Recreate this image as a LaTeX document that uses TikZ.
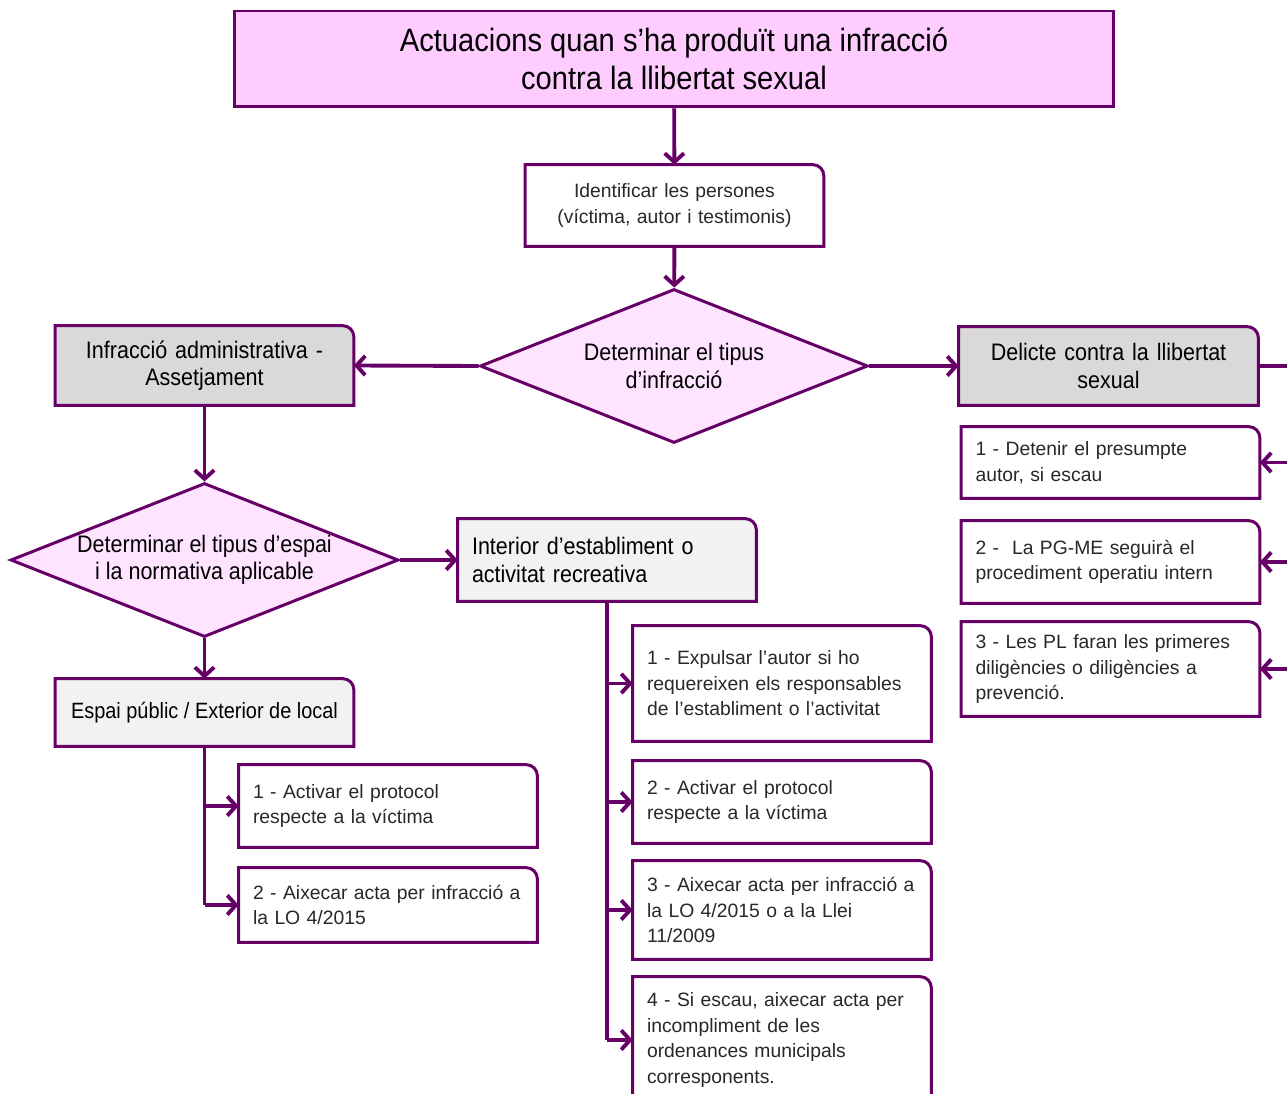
\documentclass[tikz,border=0pt]{standalone}
\usepackage{fontspec}
\setmainfont{Liberation Sans}
\newfontfamily\capfont[FakeStretch=0.9]{Liberation Sans}
\usetikzlibrary{shapes.geometric,arrows.meta,backgrounds}

\definecolor{lila}{RGB}{102,0,102}
\definecolor{rosa}{RGB}{255,204,255}
\definecolor{rosaclar}{RGB}{255,228,255}
\definecolor{grisfosc}{RGB}{217,217,217}
\definecolor{grisclar}{RGB}{242,242,242}
\definecolor{textgris}{RGB}{40,40,40}

\begin{document}
\begin{tikzpicture}[x=0.02cm,y=-0.02cm,
		pas/.style={inner sep=0pt,text width=5.4cm,minimum width=5.96cm,align=left,text=textgris,font=\fontsize{11}{14.5}\selectfont},
		capcentre/.style={inner sep=0pt,text width=5.8cm,minimum width=5.96cm,align=center,font=\capfont\fontsize{13.6}{15.5}\selectfont},
		capesq/.style={capcentre,text width=5.4cm,align=left},
		decisio/.style={diamond,draw=lila,line width=1.7pt,fill=rosaclar,aspect=2.52,minimum width=7.76cm,minimum height=3.08cm,inner xsep=-0.8cm,inner ysep=0pt,align=center,font=\capfont\fontsize{13.6}{15.5}\selectfont},
		linia/.style={draw=lila,line width=2.2pt},
		fletxa/.style={linia,-{Straight Barb[length=5pt,width=11pt]}},
		vora/.style={draw=lila,line width=1.7pt}]
		\useasboundingbox (0,0) rectangle (1287,1094);
		\clip (0,0) rectangle (1287,1094);
		
		\node[vora,fill=rosa,minimum width=17.6cm,minimum height=1.92cm,align=center,font=\capfont\fontsize{18.4}{21.5}\selectfont] (titol) at (674,59) {Actuacions quan s’ha produït una infracció\\contra la llibertat sexual};
		
		\node[pas,align=center,minimum height=1.62cm] (ident) at (674.5,205.5) {Identificar les persones\\(víctima, autor i testimonis)};
		\node[decisio] (tipus) at (674,366) {Determinar el tipus\\d’infracció};
		
		\node[capcentre,minimum height=1.58cm] (infr) at (204.5,365.5) {Infracció administrativa -\\Assetjament};
		\node[capcentre,minimum width=5.98cm,minimum height=1.56cm] (delicte) at (1108.5,366) {Delicte contra la llibertat\\sexual};
		
		\node[pas,minimum height=1.42cm] (r1) at (1110.5,462.5) {1 - Detenir el presumpte\\autor, si escau};
		\node[pas,minimum height=1.64cm] (r2) at (1110.5,562) {2 -\ \ La PG-ME seguirà el\\procediment operatiu intern};
		\node[pas,minimum height=1.88cm] (r3) at (1110.5,669) {3 - Les PL faran les primeres\\diligències o diligències a\\prevenció.};
		
		\node[decisio] (espaitipus) at (204.5,560) {Determinar el tipus d’espai\\i la normativa aplicable};
		\node[capesq,minimum height=1.64cm] (interior) at (607,560) {Interior d’establiment o\\activitat recreativa};
		\node[inner sep=0pt,minimum width=5.96cm,minimum height=1.34cm,font=\capfont\fontsize{12.6}{15}\selectfont] (espai) at (204.5,712.5) {Espai públic / Exterior de local};
		
		\node[pas,minimum height=1.64cm] (l1) at (388,806) {1 - Activar el protocol\\respecte a la víctima};
		\node[pas,minimum height=1.48cm] (l2) at (388,905) {2 - Aixecar acta per infracció a\\la LO 4/2015};
		
		\node[pas,minimum height=2.3cm] (m1) at (782,683.5) {1 - Expulsar l’autor si ho\\requereixen els responsables\\de l’establiment o l’activitat};
		\node[pas,minimum height=1.64cm] (m2) at (782,802) {2 - Activar el protocol\\respecte a la víctima};
		\node[pas,minimum height=1.96cm] (m3) at (782,910) {3 - Aixecar acta per infracció a\\la LO 4/2015 o a la Llei\\11/2009};
		\node[pas,minimum height=2.52cm] (m4) at (782,1040) {4 - Si escau, aixecar acta per\\incompliment de les\\ordenances municipals\\corresponents.};
		
		% marcs amb la cantonada de dalt a la dreta arrodonida
		\begin{scope}[on background layer]
			\clip (0,0) rectangle (1287,1094);
			\foreach \n/\c in {ident/white,infr/grisfosc,delicte/grisfosc,r1/white,r2/white,r3/white,interior/grisclar,espai/grisclar,l1/white,l2/white,m1/white,m2/white,m3/white,m4/white}
			\filldraw[vora,fill=\c] (\n.south west) -- (\n.north west) -- ([xshift=-0.22cm]\n.north east) .. controls ([xshift=-0.1cm]\n.north east) and ([yshift=-0.1cm]\n.north east) .. ([yshift=-0.22cm]\n.north east) -- (\n.south east) -- cycle;
		\end{scope}
		
		\coordinate (rail) at (1300,366);
		
		\draw[fletxa] (titol) -- (ident);
		\draw[fletxa] (ident) -- (tipus);
		\draw[fletxa] (tipus.west) -- (infr.east);
		\draw[fletxa] (tipus.east) -- (delicte.west);
		
		\draw[linia] (delicte.east) -- (rail) -- (rail |- r3.east);
		\draw[fletxa] (rail |- r1.east) -- (r1.east);
		\draw[fletxa] (rail |- r2.east) -- (r2.east);
		\draw[fletxa] (rail |- r3.east) -- (r3.east);
		
		\draw[fletxa] (infr) -- (espaitipus);
		\draw[fletxa] (espaitipus.east) -- (interior.west);
		\draw[fletxa] (espaitipus) -- (espai);
		
		\draw[linia] (espai.south) -- (espai.south |- l2.west);
		\draw[fletxa] (espai.south |- l1.west) -- (l1.west);
		\draw[fletxa] (espai.south |- l2.west) -- (l2.west);
		
		\draw[linia] (interior.south) -- (interior.south |- m4.west);
		\draw[fletxa] (interior.south |- m1.west) -- (m1.west);
		\draw[fletxa] (interior.south |- m2.west) -- (m2.west);
		\draw[fletxa] (interior.south |- m3.west) -- (m3.west);
		\draw[fletxa] (interior.south |- m4.west) -- (m4.west);
		
\end{tikzpicture}
\end{document}
